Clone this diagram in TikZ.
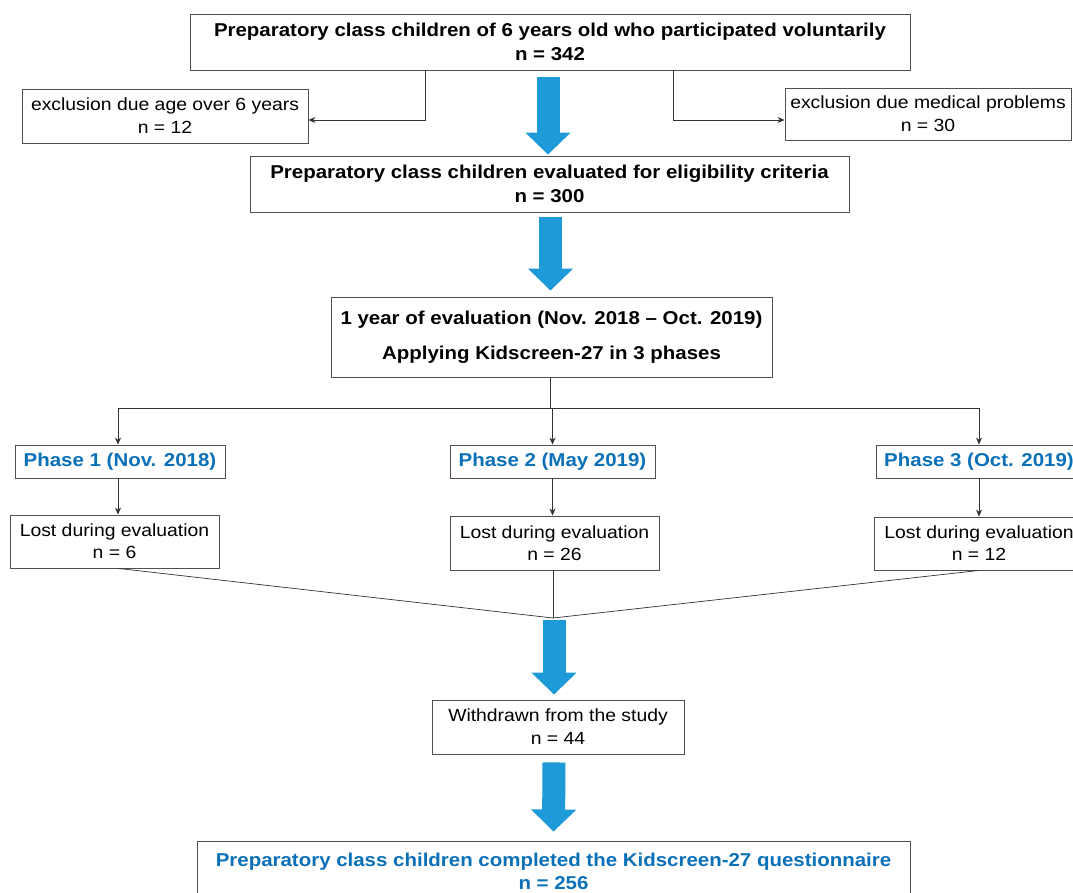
\documentclass[tikz,border=0pt]{standalone}
\usepackage{fontspec}
\setmainfont{Liberation Sans}[FakeStretch=1.1]
\usetikzlibrary{arrows.meta,calc}
\definecolor{arrowblue}{HTML}{1E9AD8}
\definecolor{textblue}{HTML}{0A70B8}
\definecolor{boxgray}{HTML}{505050}
\tikzset{
  box/.style={draw=boxgray, line width=0.9pt, fill=white, inner sep=0pt, align=center, text=black},
  reg/.style={font=\fontsize{17.6}{23}\selectfont},
  bld/.style={font=\fontsize{18.6}{24}\selectfont\bfseries},
  bluetxt/.style={text=textblue},
  thin/.style={draw=black!80, line width=0.7pt},
  smallarrow/.style={thin, -{Stealth[length=7pt,width=6pt]}},
  bigarrow/.style={draw=arrowblue, line width=23pt, -{Triangle[length=22pt,width=44pt]}},
}
\begin{document}
\begin{tikzpicture}[x=1pt,y=-1pt]
\useasboundingbox (0,0) rectangle (1073,893);
\clip (0,0) rectangle (1073,893);
\fill[white] (0,0) rectangle (1073,893);

% boxes
\node[box,bld,minimum width=720pt,minimum height=56pt] (top) at (550,42)
  {Preparatory class children of 6 years old who participated voluntarily\\ n = 342};
\node[box,reg,minimum width=286pt,minimum height=54pt] (exL) at (165,116)
  {exclusion due age over 6 years\\ n = 12};
\node[box,reg,minimum width=286pt,minimum height=52pt] (exR) at (928,114)
  {exclusion due medical problems\\ n = 30};
\node[box,bld,minimum width=599pt,minimum height=56pt] (elig) at (549.5,184)
  {Preparatory class children evaluated for eligibility criteria\\ n = 300};
\node[box,bld,minimum width=441pt,minimum height=80pt,font=\fontsize{18.6}{35}\selectfont\bfseries] (eval) at (551.5,337)
  {1 year of evaluation (Nov. 2018 -- Oct. 2019)\\ Applying Kidscreen-27 in 3 phases};

\node[box,bld,bluetxt,minimum width=210pt,minimum height=33pt] (ph1) at (120,461.5) {Phase 1 (Nov. 2018)};
\node[box,bld,bluetxt,minimum width=205pt,minimum height=33pt] (ph2) at (552.5,461.5) {Phase 2 (May 2019)};
\node[box,bld,bluetxt,minimum width=206pt,minimum height=33pt] (ph3) at (979,461.5) {Phase 3 (Oct. 2019)};

\node[box,reg,minimum width=209pt,minimum height=53pt,font=\fontsize{17.6}{22}\selectfont] (l1) at (114.5,541.5) {Lost during evaluation\\ n = 6};
\node[box,reg,minimum width=209pt,minimum height=54pt,font=\fontsize{17.6}{22}\selectfont] (l2) at (554.5,543) {Lost during evaluation\\ n = 26};
\node[box,reg,minimum width=210pt,minimum height=53pt,font=\fontsize{17.6}{22}\selectfont] (l3) at (979,543.5) {Lost during evaluation\\ n = 12};

\node[box,reg,minimum width=252pt,minimum height=54pt] (wd) at (558,727) {Withdrawn from the study\\ n = 44};
\node[box,bld,bluetxt,minimum width=713pt,minimum height=60pt,font=\fontsize{18.6}{23}\selectfont\bfseries] (fin) at (553.5,871)
  {Preparatory class children completed the Kidscreen-27 questionnaire\\ n = 256};

% exclusion connectors
\coordinate (tl) at (425,70);
\coordinate (tr) at (673,70);
\draw[smallarrow] (tl) |- (exL.east |- 0,120);
\draw[smallarrow] (tr) |- (exR.west |- 0,120);

% big blue arrows
\draw[bigarrow] ([xshift=-2pt,yshift=-7pt]top.south) -- ([xshift=-1.5pt,yshift=1pt]elig.north);
\draw[bigarrow] ([xshift=1pt,yshift=-5pt]elig.south) -- ([xshift=-1pt,yshift=6pt]eval.north);

% phase branching
\coordinate (br) at (550,408);
\draw[thin] (eval.south -| br) -- (br);
\draw[thin] ([xshift=-2pt]ph1.north |- br) -- (ph3.north |- br);
\draw[smallarrow] ([xshift=-2pt]ph1.north |- br) -- ([xshift=-2pt]ph1.north);
\draw[smallarrow] (ph2.north |- br) -- (ph2.north);
\draw[smallarrow] (ph3.north |- br) -- (ph3.north);

\draw[smallarrow] ([xshift=-2pt]ph1.south) -- ([xshift=-2pt]ph1.south |- l1.north);
\draw[smallarrow] (ph2.south) -- (ph2.south |- l2.north);
\draw[smallarrow] (ph3.south) -- (ph3.south |- l3.north);

% merge
\coordinate (jn) at (553,618);
\draw[thin] ([xshift=4pt]l1.south) -- (jn);
\draw[thin] ([xshift=-1.5pt]l2.south) -- (jn);
\draw[thin] (l3.south) -- (jn);

\draw[bigarrow] ([xshift=1pt,yshift=-2pt]jn) -- ([xshift=-4pt,yshift=5pt]wd.north);
\draw[bigarrow] ([xshift=-4pt,yshift=-8pt]wd.south) -- ([yshift=9pt]fin.north);
\end{tikzpicture}
\end{document}
